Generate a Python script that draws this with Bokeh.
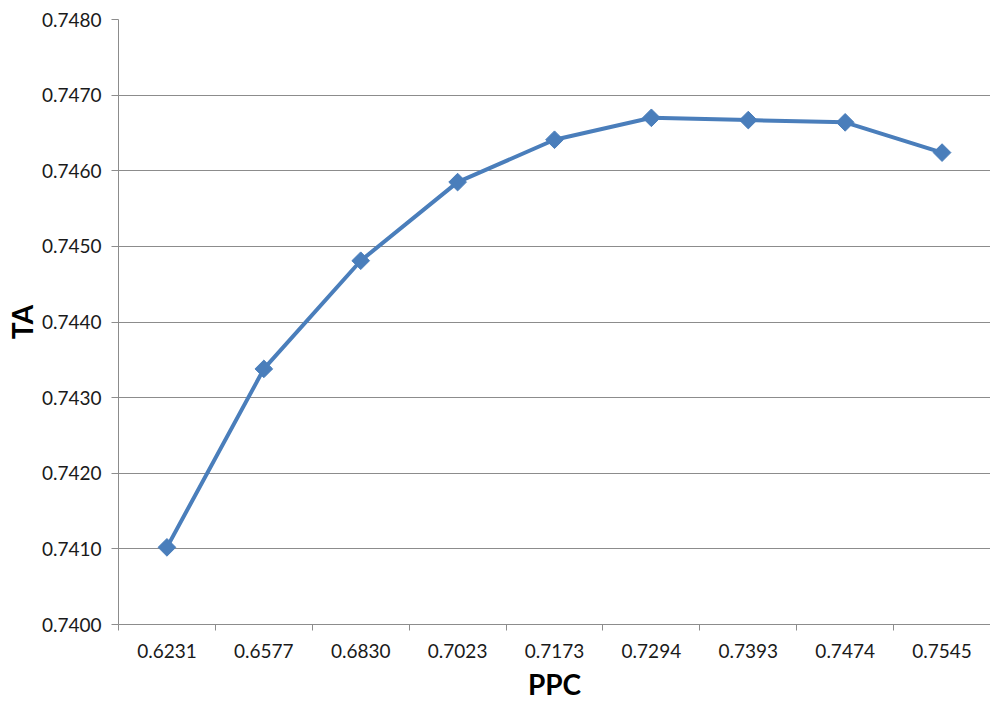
import math
from bokeh.plotting import figure
from bokeh.models import Range1d, FixedTicker, NumeralTickFormatter, ColumnDataSource
from bokeh.embed import file_html
from bokeh.resources import INLINE

# PPC categories (evenly spaced on the x axis) and the TA value for each
ppc_labels = ["0.6231", "0.6577", "0.6830", "0.7023", "0.7173",
              "0.7294", "0.7393", "0.7474", "0.7545"]
ta_values = [0.74102, 0.74338, 0.74481, 0.74585, 0.74641,
             0.74670, 0.74667, 0.74664, 0.74624]
y_ticks = [0.7400, 0.7410, 0.7420, 0.7430, 0.7440, 0.7450, 0.7460, 0.7470, 0.7480]

# each category occupies one unit; the point sits in the middle of its slot
x_pos = [i + 0.5 for i in range(len(ppc_labels))]
source = ColumnDataSource(data=dict(x=x_pos, ta=ta_values))

FONT = "Lato"
GRID = "#8c8c8c"
BLUE = "#4a7ebb"

p = figure(width=990, height=707, output_backend="svg", toolbar_location=None,
           x_range=Range1d(0, len(ppc_labels)), y_range=Range1d(0.7400, 0.7480),
           min_border_left=118, min_border_right=0, min_border_top=19,
           min_border_bottom=83)
p.outline_line_color = None
p.background_fill_color = "white"
p.border_fill_color = "white"

# x axis: labels centred on categories, tick marks on the slot boundaries
p.xaxis.ticker = FixedTicker(ticks=x_pos, minor_ticks=list(range(len(ppc_labels) + 1)))
p.xaxis.major_label_overrides = {x: lab for x, lab in zip(x_pos, ppc_labels)}
p.xaxis.major_tick_line_color = None
p.xaxis.minor_tick_line_color = GRID
p.xaxis.minor_tick_out = 6
p.xaxis.minor_tick_in = 0
p.xaxis.major_tick_out = 6
p.xaxis.axis_line_color = GRID
p.xaxis.major_label_standoff = 13
p.xaxis.axis_label = "PPC"
p.xaxis.axis_label_standoff = 6

p.yaxis.ticker = FixedTicker(ticks=y_ticks)
p.yaxis.formatter = NumeralTickFormatter(format="0.0000")
p.yaxis.major_tick_line_color = GRID
p.yaxis.major_tick_out = 7
p.yaxis.major_tick_in = 0
p.yaxis.minor_tick_line_color = None
p.yaxis.axis_line_color = GRID
p.yaxis.major_label_standoff = 10
p.yaxis.axis_label = "TA"
p.yaxis.axis_label_standoff = 0

for ax in (p.xaxis, p.yaxis):
    ax.major_label_text_font = FONT
    ax.major_label_text_font_size = "19px"
    ax.major_label_text_color = "#1a1a1a"
    ax.axis_label_text_font = FONT
    ax.axis_label_text_font_size = "28px"
    ax.axis_label_text_font_style = "bold"
    ax.axis_label_text_color = "black"

p.xgrid.grid_line_color = None
p.ygrid.grid_line_color = GRID
p.ygrid.grid_line_width = 1

p.line("x", "ta", source=source, line_color=BLUE, line_width=4)
p.scatter("x", "ta", source=source, marker="square", angle=math.pi / 4, size=12.5,
          fill_color=BLUE, line_color=BLUE)

open("out.html", "w").write(file_html(p, INLINE))
